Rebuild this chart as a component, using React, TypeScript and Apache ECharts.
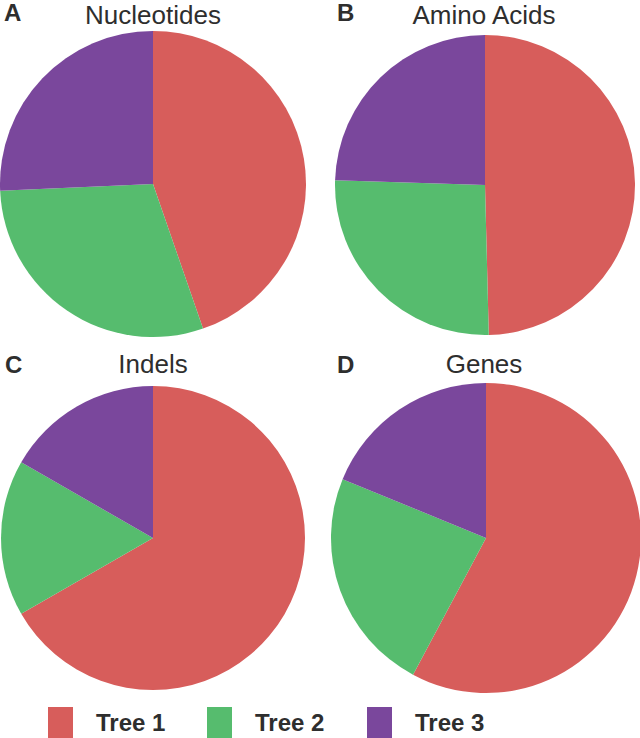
import React, { useEffect, useRef } from "react";
import * as echarts from "echarts";

const categories = ["Tree 1", "Tree 2", "Tree 3"];
const colors = ["#D75D5B", "#56BC6E", "#7A479C"];
const panelLetters = ["A", "B", "C", "D"];
const panelTitles = ["Nucleotides", "Amino Acids", "Indels", "Genes"];
const nucleotides = [44.7, 29.6, 25.7];
const aminoAcids = [49.6, 25.9, 24.5];
const indels = [66.7, 16.6, 16.7];
const genes = [57.8, 23.4, 18.8];
const panelValues = [nucleotides, aminoAcids, indels, genes];

const centers = [
  [153, 184],
  [485, 185],
  [153, 538],
  [486, 538],
];
const radii = [153, 150, 152, 155];
const titlePos = [
  { x: 153, y: 2 },
  { x: 484, y: 2 },
  { x: 153, y: 351 },
  { x: 484, y: 351 },
];
const letterPos = [
  { x: 4, y: 0 },
  { x: 337, y: 0 },
  { x: 5, y: 352 },
  { x: 337, y: 352 },
];
const legendLeft = [48, 207, 367];

export default function App() {
  const ref = useRef<HTMLDivElement>(null);
  useEffect(() => {
    if (!ref.current) return;
    const chart = echarts.init(ref.current, undefined, { renderer: "svg" });
    const titles: any[] = [];
    panelTitles.forEach((t, i) => {
      titles.push({
        text: t,
        left: titlePos[i].x,
        top: titlePos[i].y,
        textAlign: "center",
        padding: 0,
        textStyle: {
          fontFamily: "Liberation Sans, Arial, sans-serif",
          fontSize: 26,
          fontWeight: "normal",
          color: "#2e2e2e",
        },
      });
      titles.push({
        text: panelLetters[i],
        left: letterPos[i].x,
        top: letterPos[i].y,
        padding: 0,
        textStyle: {
          fontFamily: "Liberation Sans, Arial, sans-serif",
          fontSize: 24,
          fontWeight: "bold",
          color: "#2e2e2e",
        },
      });
    });
    const legends = categories.map((c, i) => ({
      data: [c],
      left: legendLeft[i],
      top: 707,
      padding: 0,
      icon: "rect",
      itemWidth: 25,
      itemHeight: 31,
      selectedMode: false,
      textStyle: {
        fontFamily: "Liberation Sans, Arial, sans-serif",
        fontSize: 24,
        fontWeight: "bold",
        color: "#2e2e2e",
        padding: [0, 0, 0, 18],
      },
    }));
    const series = panelValues.map((vals, i) => ({
      type: "pie",
      center: centers[i],
      radius: radii[i],
      startAngle: 90,
      clockwise: true,
      silent: true,
      label: { show: false },
      labelLine: { show: false },
      itemStyle: { borderWidth: 0 },
      emphasis: { disabled: true },
      data: categories.map((c, j) => ({
        name: c,
        value: vals[j],
        itemStyle: { color: colors[j] },
      })),
    }));
    chart.setOption({
      animation: false,
      backgroundColor: "#ffffff",
      color: colors,
      title: titles,
      legend: legends,
      series,
    });
    return () => chart.dispose();
  }, []);
  return (
    <div
      ref={ref}
      style={{ position: "fixed", left: 0, top: 0, width: 640, height: 738 }}
    />
  );
}
